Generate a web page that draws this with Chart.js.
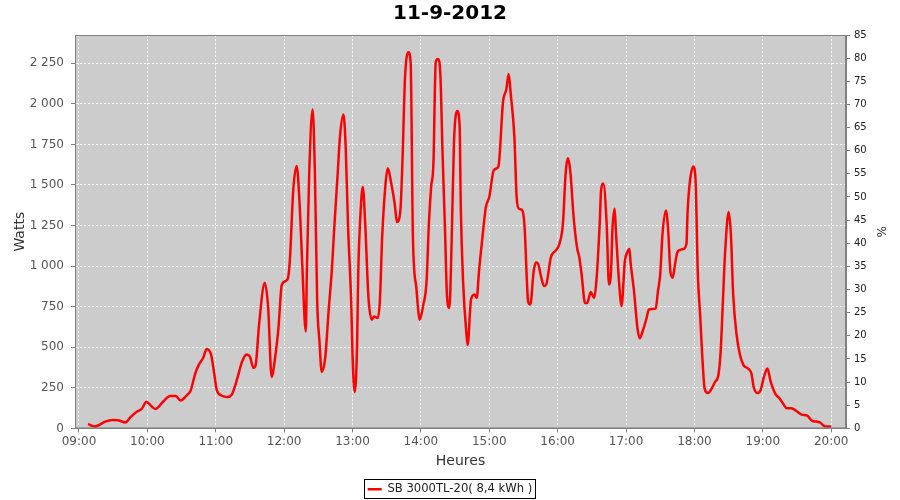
<html>
<head>
<meta charset="utf-8">
<script src="https://cdn.jsdelivr.net/npm/chart.js@4.4.0/dist/chart.umd.min.js"></script>
<style>
  body { margin: 0; background: #fff; }
  #wrap { width: 900px; height: 500px; }
</style>
</head>
<body>
<div id="wrap"><canvas id="myChart" width="900" height="500"></canvas></div>
<script>
// mesures du 11-9-2012, heure locale
var times = [
  "09:08","09:14","09:23","09:29","09:34","09:41","09:45","09:51","09:55","09:59",
  "10:07","10:14","10:20","10:25","10:29","10:35","10:38","10:42","10:45","10:49",
  "10:52","10:56","10:58","11:01","11:05","11:10","11:14","11:19","11:23","11:27",
  "11:30","11:33","11:35","11:38","11:43","11:46","11:49","11:52","11:55","11:58",
  "12:03","12:05","12:08","12:11","12:14","12:16","12:19","12:20","12:22","12:25",
  "12:27","12:29","12:31","12:33","12:36","12:39","12:42","12:44","12:47","12:49",
  "12:52","12:54","12:56","12:59","13:00","13:02","13:04","13:05","13:07","13:09",
  "13:11","13:14","13:17","13:19","13:22","13:24","13:26","13:29","13:31","13:34",
  "13:37","13:39","13:42","13:44","13:46","13:49","13:51","13:53","13:56","13:59",
  "14:02","14:05","14:07","14:09","14:11","14:13","14:15","14:17","14:19","14:21",
  "14:23","14:25","14:27","14:29","14:32","14:34","14:35","14:37","14:40","14:41",
  "14:44","14:47","14:49","14:51","14:54","14:57","15:00","15:04","15:08","15:09",
  "15:12","15:15","15:17","15:19","15:22","15:24","15:26","15:29","15:31","15:33",
  "15:34","15:36","15:39","15:41","15:43","15:45","15:48","15:50","15:54","15:58",
  "16:01","16:04","16:05","16:07","16:09","16:11","16:14","16:17","16:19","16:21",
  "16:24","16:26","16:29","16:32","16:34","16:37","16:38","16:40","16:43","16:45",
  "16:47","16:48","16:50","16:51","16:53","16:55","16:56","16:59","17:01","17:03",
  "17:04","17:07","17:10","17:12","17:15","17:18","17:20","17:23","17:26","17:28",
  "17:30","17:32","17:35","17:37","17:39","17:41","17:43","17:45","17:47","17:50",
  "17:53","17:54","17:56","17:59","18:01","18:03","18:05","18:07","18:09","18:12",
  "18:15","18:18","18:21","18:23","18:25","18:27","18:30","18:32","18:34","18:37",
  "18:40","18:43","18:47","18:50","18:52","18:55","18:58","19:01","19:04","19:07",
  "19:11","19:15","19:18","19:21","19:25","19:30","19:34","19:39","19:43","19:47",
  "19:50","19:55","20:00"
];
var watts = [
  27,12,42,52,50,37,68,104,120,162,
  120,166,199,199,172,207,234,338,390,435,
  489,452,369,234,203,193,207,311,410,456,
  442,373,390,639,897,742,317,431,618,887,
  918,1032,1468,1617,1323,991,597,991,1572,1965,
  1572,784,535,348,431,721,991,1239,1572,1799,
  1934,1737,1261,742,452,224,514,950,1323,1488,
  1281,804,670,690,680,784,1177,1509,1603,1509,
  1385,1271,1343,1685,2152,2318,2256,1177,866,670,
  758,908,1261,1488,1634,2256,2276,2193,1696,1261,
  804,742,1157,1758,1955,1861,1364,908,577,514,
  794,825,804,970,1177,1364,1426,1592,1613,1675,
  2007,2090,2183,2048,1799,1426,1354,1343,1239,908,
  784,763,970,1022,1012,950,877,887,1053,1094,
  1126,1219,1302,1572,1665,1592,1302,1115,1053,950,
  773,773,840,804,910,1281,1457,1509,1261,887,
  991,1219,1354,1230,991,804,753,1032,1084,1105,
  1022,846,618,555,608,680,732,736,738,846,
  950,1198,1343,1219,960,929,1012,1084,1099,1105,
  1136,1333,1519,1613,1530,950,701,431,244,218,
  244,286,328,473,784,1094,1333,1198,825,577,
  452,390,369,338,255,218,234,317,369,286,
  213,182,151,124,124,104,85,79,48,42,
  37,12,12
];
var seriesName = "SB 3000TL-20( 8,4 kWh )";
var chartTitle = "11-9-2012";
var hourTicks = ["09:00","10:00","11:00","12:00","13:00","14:00","15:00","16:00","17:00","18:00","19:00","20:00"];
var wattTicks = [0, 250, 500, 750, 1000, 1250, 1500, 1750, 2000, 2250];
var wattsMax = 2424;   // haut de l'axe gauche = 85 %
var pctMax = 85;

function toMin(s) {
  var p = s.split(":");
  return parseInt(p[0], 10) * 60 + parseInt(p[1], 10);
}
function fmtTime(m) {
  var h = Math.floor(m / 60), mm = m % 60;
  return (h < 10 ? "0" : "") + h + ":" + (mm < 10 ? "0" : "") + mm;
}
function fmtWatts(v) {
  return v.toString().replace(/\B(?=(\d{3})+(?!\d))/g, " ");
}

var points = [];
for (var i = 0; i < times.length; i++) {
  points.push({x: toMin(times[i]), y: watts[i]});
}

Chart.defaults.font.family = "'DejaVu Sans', sans-serif";

// fond gris de la zone de tracé + cadre de la légende
var plotBg = {
  id: 'plotBg',
  afterLayout: function (chart) {
    // descendre un peu la légende, comme sur l'original
    chart.legend.top += 5;
    chart.legend.bottom += 5;
  },
  beforeDraw: function (chart) {
    var a = chart.chartArea, ctx = chart.ctx;
    ctx.save();
    ctx.fillStyle = '#cccccc';
    ctx.fillRect(a.left, a.top, a.right - a.left, a.bottom - a.top);
    ctx.restore();
  },
  afterDraw: function (chart) {
    var a = chart.chartArea, ctx = chart.ctx;
    ctx.save();
    ctx.strokeStyle = '#808080';
    ctx.lineWidth = 1;
    ctx.strokeRect(a.left + 0.5, a.top + 0.5, a.right - a.left - 1, a.bottom - a.top - 1);
    var boxes = chart.legend.legendHitBoxes;
    if (boxes && boxes.length) {
      var b = boxes[0];
      ctx.strokeStyle = '#000';
      ctx.strokeRect(Math.round(b.left) - 3.5, Math.round(b.top) - 3.5, Math.round(b.width) + 6, Math.round(b.height) + 7);
    }
    ctx.restore();
  }
};

var gridOpts = {
  color: 'rgba(255,255,255,0.85)',
  tickColor: '#808080',
  tickBorderDash: [],
  tickLength: 4
};
var borderOpts = { display: true, color: '#808080', dash: [2, 2] };

var ctx = document.getElementById('myChart').getContext('2d');
var chart = new Chart(ctx, {
  type: 'line',
  data: {
    datasets: [{
      label: seriesName,
      data: points,
      borderColor: '#ff0000',
      backgroundColor: '#ff0000',
      borderWidth: 2.5,
      pointRadius: 0,
      cubicInterpolationMode: 'monotone',
      yAxisID: 'y'
    }]
  },
  options: {
    responsive: false,
    animation: false,
    layout: { padding: { left: 0, right: 0, top: 0, bottom: 0 } },
    plugins: {
      title: {
        display: true,
        text: chartTitle,
        color: '#000',
        font: { size: 20, weight: 'bold' },
        padding: { top: 2, bottom: 9 }
      },
      legend: {
        position: 'bottom',
        labels: {
          color: '#222',
          font: { size: 11.6 },
          usePointStyle: true,
          pointStyle: 'line',
          pointStyleWidth: 14,
          boxHeight: 12,
          padding: 4
        }
      },
      tooltip: { enabled: false }
    },
    scales: {
      x: {
        type: 'linear',
        min: 536.5,
        max: 1213,
        ticks: {
          color: '#555',
          font: { size: 12 },
          padding: 2,
          maxRotation: 0,
          callback: function (v) { return fmtTime(v); }
        },
        afterBuildTicks: function (s) {
          s.ticks = hourTicks.map(function (h) { return {value: toMin(h)}; });
        },
        afterFit: function (s) { s.height = 46; },
        grid: gridOpts,
        border: borderOpts,
        title: {
          display: true,
          text: 'Heures',
          color: '#333',
          font: { size: 14 },
          padding: { top: 0, bottom: 5 }
        }
      },
      y: {
        position: 'left',
        min: 0,
        max: wattsMax,
        ticks: {
          color: '#555',
          font: { size: 12 },
          padding: 7,
          callback: function (v) { return fmtWatts(v); }
        },
        afterBuildTicks: function (s) {
          s.ticks = wattTicks.map(function (v) { return {value: v}; });
        },
        afterFit: function (s) { s.width = 75; },
        grid: gridOpts,
        border: borderOpts,
        title: {
          display: true,
          text: 'Watts',
          color: '#333',
          font: { size: 14 },
          padding: { top: 12, bottom: 0 }
        }
      },
      y1: {
        position: 'right',
        min: 0,
        max: pctMax,
        ticks: {
          stepSize: 5,
          color: '#222',
          font: { size: 10 },
          padding: 4
        },
        afterFit: function (s) { s.width = 54; },
        grid: {
          drawOnChartArea: false,
          tickColor: '#808080',
          tickLength: 4
        },
        border: { display: true, color: '#808080' },
        title: {
          display: true,
          text: '%',
          color: '#333',
          font: { size: 12 },
          padding: { top: 13, bottom: 0 }
        }
      }
    }
  },
  plugins: [plotBg]
});
</script>
</body>
</html>
